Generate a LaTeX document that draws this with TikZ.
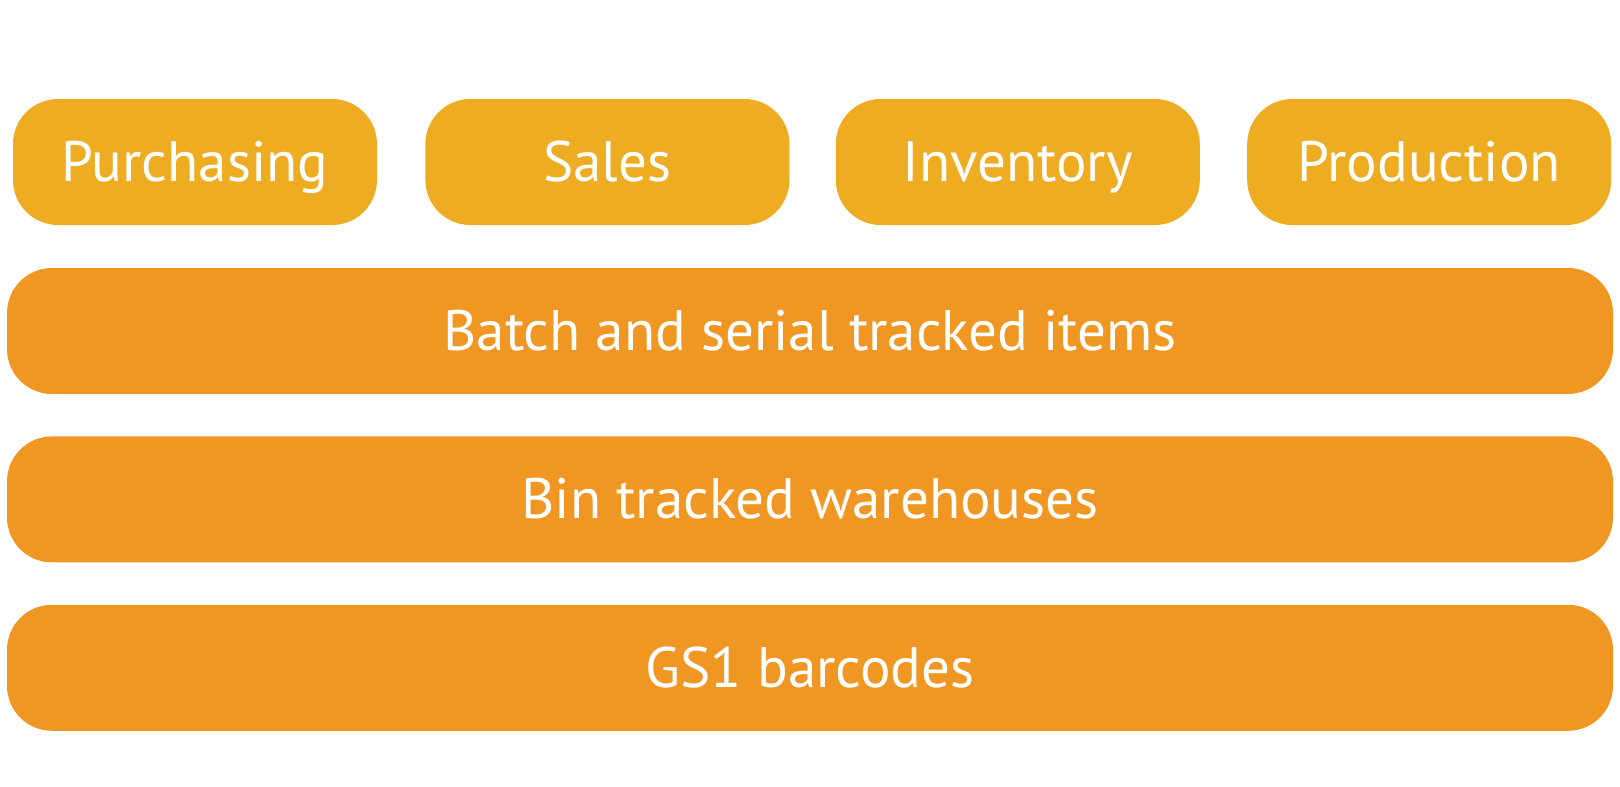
\documentclass[tikz,border=0pt]{standalone}
\usepackage{fontspec}
\setmainfont{PT Sans}
\usetikzlibrary{positioning}
\definecolor{modgold}{RGB}{237,172,34}
\definecolor{layerorange}{RGB}{240,151,35}
\tikzset{
  layerbox/.style={rectangle, rounded corners=45pt, inner sep=0pt,
    minimum height=126pt, text=white, text height=39pt, text depth=0pt,
    font=\fontsize{57}{63}\selectfont},
  modbox/.style={layerbox, fill=modgold, minimum width=364pt},
  barbox/.style={layerbox, fill=layerorange, minimum width=1606pt},
}
\begin{document}
\begin{tikzpicture}[x=1pt, y=1pt]
  \useasboundingbox (0,0) rectangle (1620,-787);

  %% Modules
  \node[modbox] (purch) at (195,-162) {Purchasing};
  \node[modbox, right=48pt of purch] (sales) {Sales};
  \node[modbox, right=46pt of sales] (inv) {Inventory};
  \node[modbox, right=47pt of inv] (prod) {Production};

  %% Tracking layers
  \node[barbox] (batch) at (810,-331) {Batch and serial tracked items};
  \node[barbox, below=42pt of batch] (bin) {Bin tracked warehouses};
  \node[barbox, below=42pt of bin] (gs1) {GS1 barcodes};

\end{tikzpicture}
\end{document}
